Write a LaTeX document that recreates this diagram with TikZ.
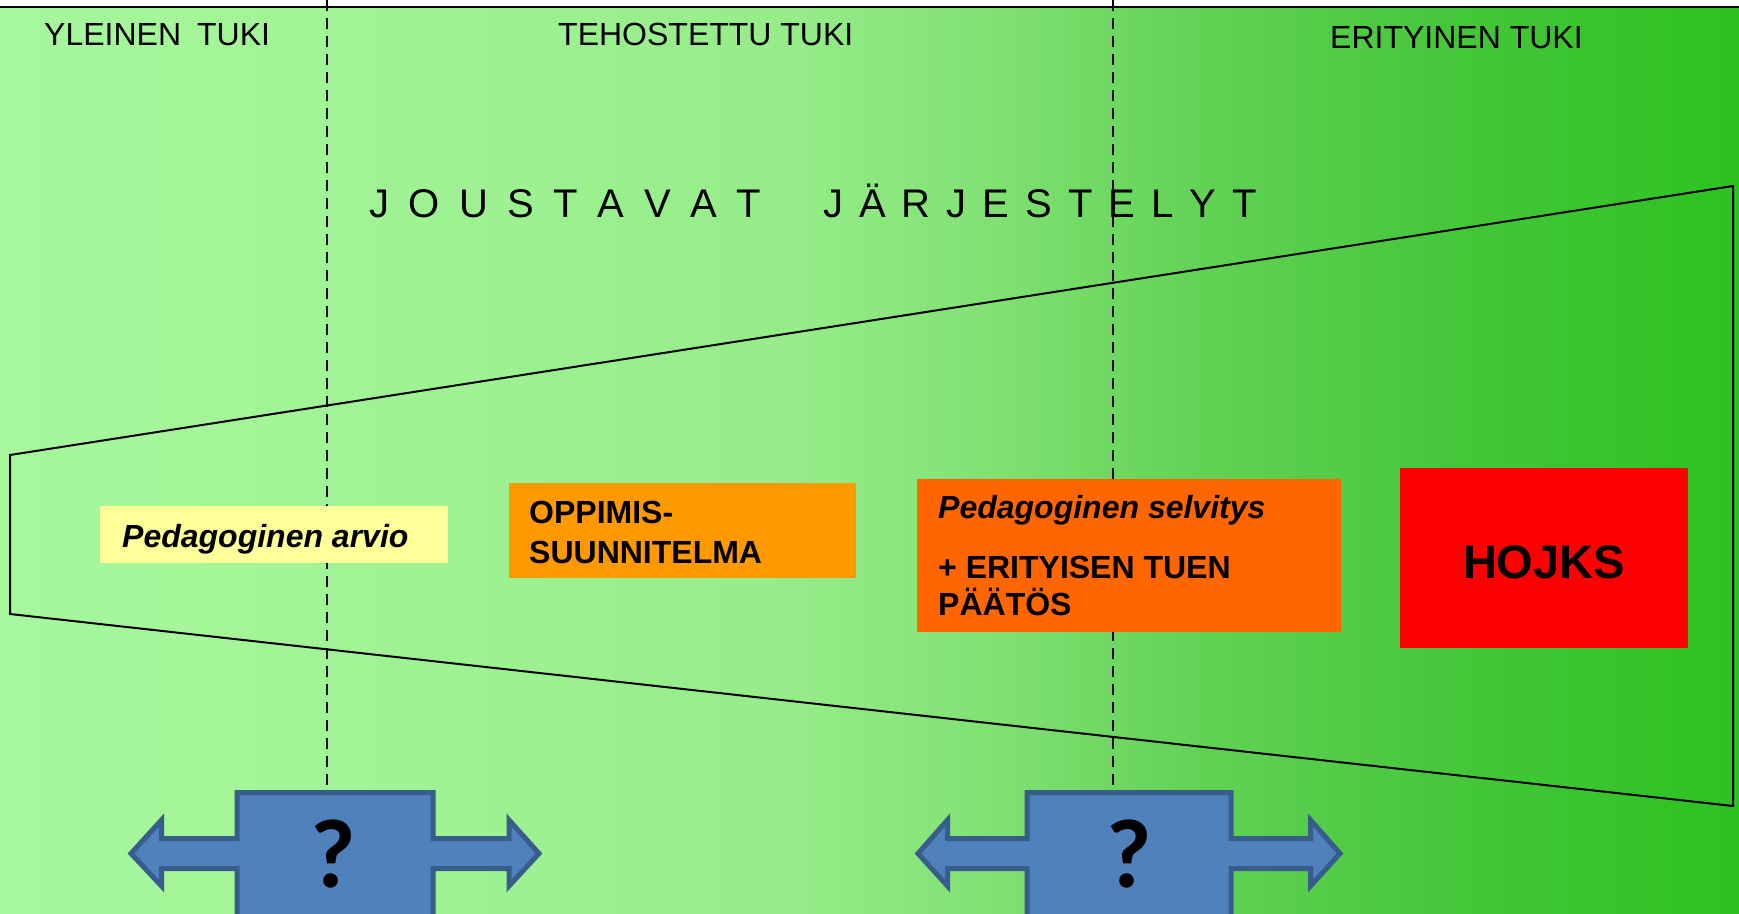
\documentclass[tikz,border=0pt]{standalone}
\usepackage{fontspec}
\setmainfont{Liberation Sans}
\newfontfamily\qfont{Carlito}
\definecolor{ga}{HTML}{A7F89D}
\definecolor{gb}{HTML}{A0F394}
\definecolor{gc}{HTML}{95EC88}
\definecolor{gd}{HTML}{80E072}
\definecolor{ge}{HTML}{62D255}
\definecolor{gf}{HTML}{45C73A}
\definecolor{gg}{HTML}{2CC220}
\definecolor{yel}{HTML}{FFFF99}
\definecolor{ora}{HTML}{FF9900}
\definecolor{ora2}{HTML}{FF6600}
\definecolor{arrfill}{HTML}{4F81BD}
\definecolor{arrline}{HTML}{385D8A}
\newcommand\lsp{\hspace{19.5pt}}
\newcommand\lsq{\hspace{16pt}}
\begin{document}
\begin{tikzpicture}[x=1pt,y=-1pt,
  lbl/.style={inner sep=0pt, anchor=base west, font=\fontsize{32}{38}\selectfont},
  boxtxt/.style={inner sep=0pt, anchor=base west, font=\fontsize{32}{37}\selectfont\bfseries},
  boxtxti/.style={boxtxt, font=\fontsize{32}{37}\selectfont\bfseries\itshape},
  docbox/.style={inner sep=0pt, anchor=north west, draw=none},
  hand/.style={inner sep=0pt, anchor=base west, font=\fontsize{40}{44}\selectfont},
  divider/.style={line width=1.5pt, dash pattern=on 11pt off 7pt},
  twoway/.style={fill=arrfill, draw=arrline, line width=5pt, miter limit=10},
  qmark/.style={inner sep=0pt, font=\qfont\bfseries\fontsize{98}{100}\selectfont}]
\useasboundingbox (0,0) rectangle (1739,913);
\clip (0,0) rectangle (1739,913);
% background
\fill[white] (0,0) rectangle (1739,8);
\shade[left color=ga, right color=gb] (0,8) rectangle (401,913);
\shade[left color=gb, right color=gc] (400,8) rectangle (801,913);
\shade[left color=gc, right color=gd] (800,8) rectangle (1001,913);
\shade[left color=gd, right color=ge] (1000,8) rectangle (1201,913);
\shade[left color=ge, right color=gf] (1200,8) rectangle (1451,913);
\shade[left color=gf, right color=gg] (1450,8) rectangle (1739,913);
\coordinate (tl) at (0,7);
\coordinate (tr) at (1739,7);
\draw[line width=2pt] (tl) -- (tr);
% dividers
\coordinate (d1t) at (327,0);
\coordinate (d1b) at (327,792);
\coordinate (d2t) at (1113,0);
\coordinate (d2b) at (1113,792);
\draw[divider] (d1t) -- (d1b);
\draw[divider] (d2t) -- (d2b);
% headings
\node[lbl] (yleinen) at (44,45) {YLEINEN\hspace{16pt}TUKI};
\node[lbl] (tehostettu) at (558,45) {TEHOSTETTU TUKI};
\node[lbl] (erityinen) at (1330,48) {ERITYINEN TUKI};
\node[hand] (joust) at (369,217) {J\lsp O\lsp U\lsp S\lsp T\lsp A\lsp V\lsp A\lsp T};
\node[hand] (jarj) at (823,217) {J\lsq Ä\lsq R\lsq J\lsq E\lsq S\lsq T\lsq E\lsq L\lsq Y\lsq T};
% trapezoid
\coordinate (p1) at (10,455);
\coordinate (p2) at (1733,186);
\coordinate (p3) at (1733,806);
\coordinate (p4) at (10,614);
\draw[line width=2pt, line join=miter] (p1) -- (p2) -- (p3) -- (p4) -- cycle;
% boxes
\node[docbox, fill=yel, minimum width=348pt, minimum height=57pt] (arvio) at (100,506) {};
\node[docbox, fill=ora, minimum width=347pt, minimum height=95pt] (oppimis) at (509,483) {};
\node[docbox, fill=ora2, minimum width=424pt, minimum height=153pt] (selvitys) at (917,479) {};
\node[docbox, fill=red, minimum width=288pt, minimum height=180pt] (hojks) at (1400,468) {};
\node[boxtxti] (t1) at (122,547) {Pedagoginen arvio};
\node[boxtxt] (t2) at (529,523) {OPPIMIS-};
\node[boxtxt] (t3) at (529,563) {SUUNNITELMA};
\node[boxtxti] (t4) at (938,518) {Pedagoginen selvitys};
\node[boxtxt] (t5) at (938,578) {+ ERITYISEN TUEN};
\node[boxtxt] (t6) at (938,615) {PÄÄTÖS};
\node[inner sep=0pt, font=\fontsize{47}{50}\selectfont\bfseries] (t7) at (1544,562) {HOJKS};
% two-way arrows
\draw[twoway] (131,853.5) -- (161.5,820) -- (161.5,838.5) -- (237,838.5) -- (237,792.5) -- (433,792.5) -- (433,838.5) -- (509,838.5) -- (509,820) -- (539,853.5) -- (509,886) -- (509,868.5) -- (433,868.5) -- (433,930) -- (237,930) -- (237,868.5) -- (161.5,868.5) -- (161.5,886) -- cycle;
\draw[twoway] (918,853.5) -- (947.5,820) -- (947.5,838.5) -- (1027,838.5) -- (1027,792.5) -- (1231,792.5) -- (1231,838.5) -- (1310.5,838.5) -- (1310.5,820) -- (1340,853.5) -- (1310.5,886) -- (1310.5,868.5) -- (1231,868.5) -- (1231,930) -- (1027,930) -- (1027,868.5) -- (947.5,868.5) -- (947.5,886) -- cycle;
\node[qmark] (q1) at (333,854) {?};
\node[qmark] (q2) at (1129,854) {?};
\end{tikzpicture}
\end{document}
